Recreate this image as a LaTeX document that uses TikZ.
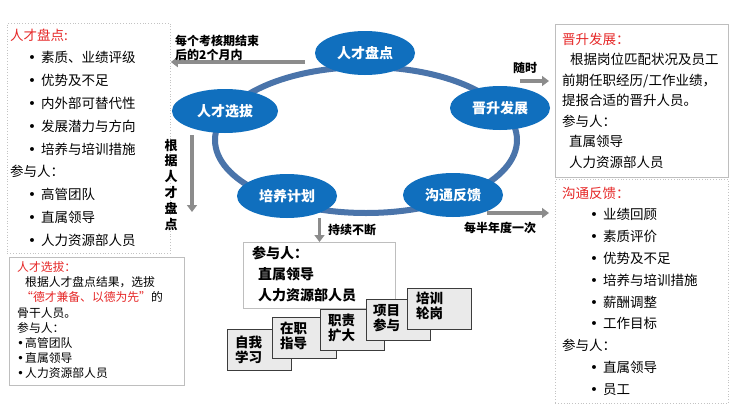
\documentclass[tikz,border=0pt]{standalone}
\usepackage{fontspec}
\setmainfont{Noto Sans CJK SC}
\newfontfamily\dejavu{DejaVu Sans}
\usetikzlibrary{arrows.meta,shapes.geometric}
\definecolor{ringblue}{RGB}{74,116,170}
\definecolor{ellblue}{RGB}{16,111,190}
\definecolor{arrgray}{RGB}{140,140,140}
\definecolor{redtxt}{RGB}{230,40,40}
\definecolor{boxline}{RGB}{190,190,190}
\definecolor{dotline}{RGB}{195,195,195}
\definecolor{stepfill}{RGB}{234,234,234}
\definecolor{stepline}{RGB}{60,60,60}
\newcommand\bul{\makebox[13pt][l]{\dejavu •}}
\newcommand\sbul{\makebox[8pt][l]{\dejavu •}}
\tikzset{
 ell/.style={ellipse, fill=ellblue, text=white, font=\fontsize{14}{14}\selectfont\bfseries, minimum width=100pt, minimum height=44pt, inner sep=0pt},
 garr/.style={draw=arrgray, line width=3.5pt, -{Triangle[length=7pt,width=10pt]}},
 lbl/.style={font=\fontsize{12}{14}\selectfont\bfseries, inner sep=0pt},
 solidbox/.style={draw=boxline, line width=1pt, anchor=north west, inner sep=0pt},
 dotbox/.style={draw=dotline, dotted, line width=0.8pt, anchor=north west, inner sep=0pt},
 stepbox/.style={draw=stepline, fill=stepfill, line width=1pt, anchor=north west, minimum width=64pt, minimum height=41pt, inner sep=0pt},
 steptxt/.style={font=\fontsize{13.5}{15.5}\selectfont\bfseries, anchor=base west, text width=30pt, align=left, inner sep=0pt},
 blk/.style={anchor=base west, inner sep=0pt, align=left},
}
\begin{document}
\begin{tikzpicture}[x=1pt,y=-1pt]
\fill[white] (0,0) rectangle (741,415);
\useasboundingbox (0,0) rectangle (741,415);

% cycle ring and stages
\draw[ringblue, line width=6pt] (366,140) ellipse [x radius=151pt, y radius=73pt];
\node[ell] (pd) at (365,53) {人才盘点};
\node[ell] (js) at (500,108) {晋升发展};
\node[ell, minimum width=106pt] (xb) at (225,111) {人才选拔};
\node[ell] (py) at (287,196) {培养计划};
\node[ell] (gt) at (453,195) {沟通反馈};

% left top box
\node[dotbox, minimum width=163pt, minimum height=230pt] (ltb) at (7,23) {};
\node[blk, text width=158pt, font=\fontsize{13.5}{22.8}\selectfont] (ltt) at (10,40) {\textcolor{redtxt}{人才盘点:}\\
\hspace*{18pt}\bul 素质、业绩评级\\
\hspace*{18pt}\bul 优势及不足\\
\hspace*{18pt}\bul 内外部可替代性\\
\hspace*{18pt}\bul 发展潜力与方向\\
\hspace*{18pt}\bul 培养与培训措施\\
参与人：\\
\hspace*{18pt}\bul 高管团队\\
\hspace*{18pt}\bul 直属领导\\
\hspace*{18pt}\bul 人力资源部人员};

% left bottom box
\node[solidbox, minimum width=175pt, minimum height=128pt] (lbb) at (9,257) {};
\node[blk, text width=165pt, font=\fontsize{11.8}{15.2}\selectfont] (lbt) at (17,271.5) {\textcolor{redtxt}{人才选拔：}\\
\hspace*{8pt}根据人才盘点结果，选拔\\
\hspace*{4pt}\textcolor{redtxt}{“德才兼备、以德为先”}的\\
骨干人员。\\
参与人：\\
\sbul 高管团队\\
\sbul 直属领导\\
\sbul 人力资源部人员};

% right top box
\node[solidbox, minimum width=173pt, minimum height=153pt] (rtb) at (555,24) {};
\node[blk, text width=166pt, font=\fontsize{13.5}{20.5}\selectfont] (rtt) at (562,44) {\textcolor{redtxt}{晋升发展：}\\
\hspace*{8pt}根据岗位匹配状况及员工\\
前期任职经历/工作业绩，\\
提报合适的晋升人员。\\
参与人：\\
\hspace*{7pt}直属领导\\
\hspace*{7pt}人力资源部人员};

% right bottom box
\node[dotbox, minimum width=173pt, minimum height=224pt] (rbb) at (555,179) {};
\node[blk, text width=166pt, font=\fontsize{13.5}{21.8}\selectfont] (rbt) at (562,198) {\textcolor{redtxt}{沟通反馈：}\\
\hspace*{28pt}\bul 业绩回顾\\
\hspace*{28pt}\bul 素质评价\\
\hspace*{28pt}\bul 优势及不足\\
\hspace*{28pt}\bul 培养与培训措施\\
\hspace*{28pt}\bul 薪酬调整\\
\hspace*{28pt}\bul 工作目标\\
参与人：\\
\hspace*{28pt}\bul 直属领导\\
\hspace*{28pt}\bul 员工};

% participants box under the cycle
\node[solidbox, minimum width=152pt, minimum height=66pt] (pb) at (243,242) {};
\node[blk, text width=145pt, font=\fontsize{14}{21}\selectfont\bfseries] (pbt) at (252,258) {参与人：\\
\hspace*{6pt}直属领导\\
\hspace*{6pt}人力资源部人员};

% staircase
\node[stepbox] (s1) at (227,329) {};
\node[steptxt] (t1) at (235,347) {自我\\学习};
\node[stepbox] (s2) at (272,317) {};
\node[steptxt] (t2) at (280,333) {在职\\指导};
\node[stepbox] (s3) at (320,309) {};
\node[steptxt] (t3) at (328,325) {职责\\扩大};
\node[stepbox] (s4) at (366,299) {};
\node[steptxt] (t4) at (373,315) {项目\\参与};
\node[stepbox] (s5) at (407,288) {};
\node[steptxt] (t5) at (416,303) {培训\\轮岗};

% arrows
\coordinate (a1s) at (305,62);
\draw[garr] (a1s) -- (a1s -| ltb.east);
\coordinate (a2s) at (520,81);
\draw[garr, shorten >=6pt] (a2s) -- (a2s -| rtb.west);
\coordinate (a3s) at (192,135);
\coordinate (a3e) at (192,212);
\draw[garr] (a3s) -- (a3e);
\draw[garr] (py.south -| pb.north) -- (pb.north);
\coordinate (a5s) at (487,213);
\draw[garr, shorten >=6pt] (a5s) -- (a5s -| rbb.west);

% arrow labels
\node[blk, text width=100pt, font=\fontsize{12}{14}\selectfont\bfseries] (l1) at (175,45.5) {每个考核期结束\\后的2个月内};
\node[lbl] (l2) at (525,68) {随时};
\node[lbl, anchor=base, text width=14pt, align=center, font=\fontsize{13}{15.8}\selectfont\bfseries] (l3) at (171,150) {根\\据\\人\\才\\盘\\点};
\node[lbl] (l4) at (352,230) {持续不断};
\node[lbl] (l5) at (500,228) {每半年度一次};
\end{tikzpicture}
\end{document}
